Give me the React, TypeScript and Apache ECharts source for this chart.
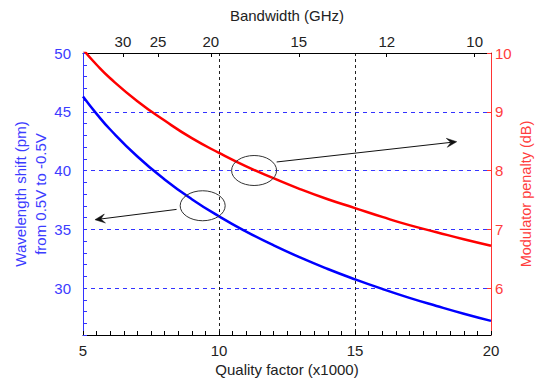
import React, { useEffect, useRef } from "react";
import * as echarts from "echarts";

// Quality factor (x1000)
const qValues = [5, 5.5, 6, 7, 8, 9, 10, 11, 12, 13, 14, 15, 16, 17, 18, 19, 20];
// Wavelength shift (pm), left axis
const shiftValues = [46.3, 44.82, 43.49, 41.19, 39.24, 37.56, 36.1, 34.8, 33.64, 32.58, 31.62, 30.74, 29.92, 29.16, 28.47, 27.81, 27.2];
// Modulator penalty (dB), right axis
const penaltyValues = [10.06, 9.8, 9.57, 9.18, 8.85, 8.55, 8.3, 8.07, 7.87, 7.68, 7.51, 7.36, 7.21, 7.07, 6.95, 6.83, 6.72];
// Top axis: bandwidth tick labels (GHz), Q = carrier / BW
const bandwidthTicks = [30, 25, 20, 15, 12, 10];
const carrierTHz = 194;
// Annotations: [centerQ, centerV, tailQ, tailV, headQ, headV]
const shiftNote = [[9.4, 37.0, 8.44, 36.69, 5.44, 35.81]];
const penaltyNote = [[11.29, 8.0, 12.12, 8.145, 18.74, 8.49]];

const FONT = '"Liberation Sans", Arial, sans-serif';
const BLUE = "#0000ff";
const BLUE_TXT = "#3c3cff";
const RED = "#ff0000";
const RED_TXT = "#ff3c3c";

function noteItem(params: any, api: any) {
  const c = api.coord([api.value(0), api.value(1)]);
  const t = api.coord([api.value(2), api.value(3)]);
  const h = api.coord([api.value(4), api.value(5)]);
  const ang = Math.atan2(h[1] - t[1], h[0] - t[0]);
  const ux = Math.cos(ang);
  const uy = Math.sin(ang);
  const px = -uy;
  const py = ux;
  const L = 10;
  const W = 4.5;
  const N = 6;
  const p1 = [h[0] - ux * L + px * W, h[1] - uy * L + py * W];
  const p2 = [h[0] - ux * N, h[1] - uy * N];
  const p3 = [h[0] - ux * L - px * W, h[1] - uy * L - py * W];
  return {
    type: "group",
    children: [
      {
        type: "ellipse",
        shape: { cx: c[0], cy: c[1], rx: 22.5, ry: 15 },
        style: { fill: "none", stroke: "#333", lineWidth: 1 },
      },
      {
        type: "line",
        shape: { x1: t[0], y1: t[1], x2: p2[0], y2: p2[1] },
        style: { stroke: "#111", lineWidth: 1 },
      },
      {
        type: "polygon",
        shape: { points: [h, p1, p2, p3] },
        style: { fill: "#111", stroke: "#111", lineWidth: 0.5 },
      },
    ],
  };
}

export default function App() {
  const ref = useRef<HTMLDivElement>(null);
  useEffect(() => {
    if (!ref.current) return;
    const chart = echarts.init(ref.current, null, { renderer: "svg" });
    const bwQ = bandwidthTicks.map((b) => carrierTHz / b);
    chart.setOption({
      animation: false,
      backgroundColor: "#ffffff",
      textStyle: { fontFamily: FONT },
      grid: { left: 83, right: 44, top: 53, bottom: 48, containLabel: false, outerBoundsMode: "none" },
      xAxis: [
        {
          type: "value",
          position: "bottom",
          min: 5,
          max: 20,
          interval: 5,
          name: "Quality factor (x1000)",
          nameLocation: "middle",
          nameGap: 27,
          nameMoveOverlap: false,
          nameTextStyle: { color: "#222", fontSize: 15, fontFamily: FONT },
          axisLine: { show: true, onZero: false, lineStyle: { color: "#000", width: 1 } },
          axisTick: { show: true, inside: true, length: 4, lineStyle: { color: "#000" } },
          minorTick: { show: true, splitNumber: 10, length: 4, lineStyle: { color: "#000" } },
          axisLabel: { color: "#222", fontSize: 15, margin: 8, fontFamily: FONT },
          splitLine: {
            show: true,
            showMinLine: false,
            showMaxLine: false,
            lineStyle: { color: "#222", type: [3, 3], width: 1 },
          },
        },
        {
          type: "value",
          position: "top",
          min: 5,
          max: 20,
          name: "Bandwidth (GHz)",
          nameLocation: "middle",
          nameGap: 30,
          nameMoveOverlap: false,
          nameTextStyle: { color: "#222", fontSize: 15, fontFamily: FONT },
          axisLine: { show: true, onZero: false, lineStyle: { color: "#000", width: 1 } },
          axisTick: { show: true, inside: true, length: 4, customValues: bwQ, lineStyle: { color: "#000" } },
          axisLabel: {
            color: "#222",
            fontSize: 15,
            margin: 4,
            fontFamily: FONT,
            customValues: bwQ,
            formatter: (v: number) => String(Math.round(carrierTHz / v)),
          },
          splitLine: { show: false },
        },
      ],
      yAxis: [
        {
          type: "value",
          position: "left",
          min: 26,
          max: 50,
          splitNumber: 5,
          name: "Wavelength shift (pm)\nfrom 0.5V to -0.5V",
          nameLocation: "middle",
          nameRotate: 90,
          nameGap: 33,
          nameMoveOverlap: false,
          nameTextStyle: { color: BLUE_TXT, fontSize: 15, fontFamily: FONT, lineHeight: 20 },
          axisLine: { show: true, onZero: false, lineStyle: { color: "#3333ff", width: 1 } },
          axisTick: { show: true, inside: true, length: 4, lineStyle: { color: "#3333ff" } },
          minorTick: { show: true, splitNumber: 5, length: 4, lineStyle: { color: "#3333ff" } },
          axisLabel: { color: BLUE_TXT, fontSize: 15, margin: 12, showMinLabel: false, fontFamily: FONT },
          splitLine: {
            show: true,
            showMinLine: false,
            showMaxLine: false,
            lineStyle: { color: "#3333ff", type: [4, 4], width: 1 },
          },
        },
        {
          type: "value",
          position: "right",
          min: 5.2,
          max: 10,
          splitNumber: 5,
          name: "Modulator penalty (dB)",
          nameLocation: "middle",
          nameRotate: 90,
          nameGap: 27,
          nameMoveOverlap: false,
          nameTextStyle: { color: RED_TXT, fontSize: 14.5, fontFamily: FONT },
          axisLine: { show: true, onZero: false, lineStyle: { color: "#ff3333", width: 1 } },
          axisTick: { show: true, inside: true, length: 4, lineStyle: { color: "#ff3333" } },
          axisLabel: { color: RED_TXT, fontSize: 15, margin: 4, showMinLabel: false, fontFamily: FONT },
          splitLine: { show: false },
        },
      ],
      series: [
        {
          type: "line",
          name: "Wavelength shift",
          xAxisIndex: 0,
          yAxisIndex: 0,
          data: qValues.map((q, i) => [q, shiftValues[i]]),
          showSymbol: false,
          symbol: "none",
          smooth: true,
          lineStyle: { color: BLUE, width: 2.5 },
          clip: true,
          z: 3,
        },
        {
          type: "line",
          name: "Modulator penalty",
          xAxisIndex: 0,
          yAxisIndex: 1,
          data: qValues.map((q, i) => [q, penaltyValues[i]]),
          showSymbol: false,
          symbol: "none",
          smooth: true,
          lineStyle: { color: RED, width: 2.5 },
          clip: true,
          z: 3,
        },
        {
          type: "custom",
          xAxisIndex: 0,
          yAxisIndex: 0,
          renderItem: noteItem,
          data: shiftNote,
          encode: { x: 0, y: 1 },
          silent: true,
          z: 4,
        },
        {
          type: "custom",
          xAxisIndex: 0,
          yAxisIndex: 1,
          renderItem: noteItem,
          data: penaltyNote,
          encode: { x: 0, y: 1 },
          silent: true,
          z: 4,
        },
      ],
    });
    return () => chart.dispose();
  }, []);
  return (
    <div
      ref={ref}
      style={{ position: "fixed", left: 0, top: 0, width: 535, height: 383, background: "#fff" }}
    />
  );
}
